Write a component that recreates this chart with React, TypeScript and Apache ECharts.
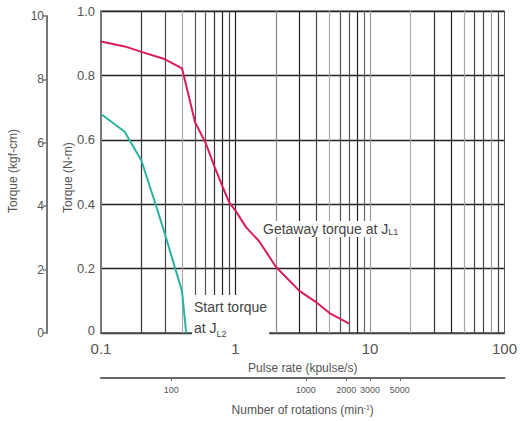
import React, { useEffect, useRef } from "react";
import * as echarts from "echarts";

// ---- data ----
const getawayRate = [0.1, 0.15, 0.2, 0.3, 0.4, 0.5, 0.6, 0.7, 0.8, 0.9, 1.0, 1.2, 1.5, 2, 3, 4, 5, 7];
const getawayTorque = [0.905, 0.89, 0.873, 0.85, 0.822, 0.655, 0.59, 0.515, 0.455, 0.405, 0.38, 0.328, 0.285, 0.205, 0.13, 0.095, 0.062, 0.029];
const startRate = [0.1, 0.15, 0.2, 0.25, 0.3, 0.4, 0.43];
const startTorque = [0.68, 0.625, 0.535, 0.41, 0.305, 0.13, 0];
const pulseTickLabels = [0.1, 1, 10, 100];
const rotationTicks = [100, 1000, 2000, 3000, 5000];
const kgfTicks = [0, 2, 4, 6, 8, 10];
const rpmPerKpulse = 300;
const gridValues = [0.2, 0.3, 0.4, 0.5, 0.6, 0.7, 0.8, 0.9, 1, 2, 3, 4, 5, 6, 7, 8, 9, 10, 20, 30, 40, 50, 60, 70, 80, 90];

// styles
const gridTones = ["#333", "#444", "#aaa", "#555", "#555", "#333", "#222", "#444", "#222", "#888", "#222", "#444", "#aaa", "#555", "#555", "#222", "#666", "#999", "#aaa", "#333", "#222", "#aaa", "#444", "#444", "#999", "#444"];
const FONT = "Liberation Sans, Arial, sans-serif";
const TXT = "#555";

export default function App() {
  const ref = useRef<HTMLDivElement>(null);
  useEffect(() => {
    if (!ref.current) return;
    const chart = echarts.init(ref.current, undefined, { renderer: "svg" });
    const fmtNum = (v: number) => String(+Number(v).toPrecision(3));
    chart.setOption({
      animation: false,
      textStyle: { fontFamily: FONT },
      grid: [
        { left: 101, top: 11, right: 14.5, bottom: 84, show: true, borderColor: "#555", borderWidth: 1, backgroundColor: "transparent" },
        { left: 47, top: 16, width: 1, height: 317 },
      ],
      xAxis: [
        {
          type: "log", logBase: 10, min: pulseTickLabels[0], max: pulseTickLabels[pulseTickLabels.length - 1], gridIndex: 0,
          axisLine: { show: true, lineStyle: { color: "#555", width: 1.5 } },
          axisTick: { show: false },
          splitLine: { show: false },
          axisLabel: { color: TXT, fontSize: 15, margin: 8, formatter: fmtNum },
          name: "Pulse rate (kpulse/s)", nameLocation: "middle", nameGap: 29,
          nameTextStyle: { color: TXT, fontSize: 12 },
        },
        {
          type: "log", logBase: 10, gridIndex: 0, position: "bottom", offset: 45,
          min: pulseTickLabels[0] * rpmPerKpulse, max: pulseTickLabels[pulseTickLabels.length - 1] * rpmPerKpulse,
          axisLine: { show: true, lineStyle: { color: "#666", width: 2 } },
          axisTick: { show: true, customValues: rotationTicks, length: 3, lineStyle: { color: "#666" } },
          axisLabel: { show: true, customValues: rotationTicks, color: TXT, fontSize: 9, margin: 7, formatter: (v: number) => String(Math.round(v)) },
          splitLine: { show: false },
          name: "{a|Number of rotations (min}{s|-1}{a|)}", nameLocation: "middle", nameGap: 26,
          nameTextStyle: { rich: { a: { color: TXT, fontSize: 12 }, s: { color: TXT, fontSize: 7, verticalAlign: "top" } } },
        },
        { type: "value", gridIndex: 1, show: false },
      ],
      yAxis: [
        {
          type: "value", min: 0, max: 1, interval: 0.2, gridIndex: 0,
          axisLine: { show: true, lineStyle: { color: "#777", width: 2 } },
          axisTick: { show: false },
          axisLabel: {
            color: TXT, fontSize: 13, margin: 6,
            formatter: (v: number) => (v === 0 ? "{z|0}" : v.toFixed(1)),
            rich: { z: { color: TXT, fontSize: 13, padding: [0, 0, 6, 0] } },
          },
          splitLine: { show: true, lineStyle: { color: "#222", width: 1.3 } },
        },
        {
          type: "value", min: kgfTicks[0], max: kgfTicks[kgfTicks.length - 1], interval: 2, gridIndex: 1,
          axisLine: { show: true, lineStyle: { color: "#777", width: 2 } },
          axisTick: { show: true, length: 4, lineStyle: { color: "#777", width: 1.5 } },
          axisLabel: { color: TXT, fontSize: 12, margin: 3 },
          splitLine: { show: false },
        },
      ],
      series: [
        {
          type: "line", xAxisIndex: 0, yAxisIndex: 0, data: [], z: 1, silent: true,
          markLine: {
            silent: true, symbol: "none", label: { show: false },
            lineStyle: { type: "solid", width: 1.2 },
            data: gridValues.map((v, i) => ({ xAxis: v, lineStyle: { color: gridTones[i], type: "solid", width: 1.2 } })),
          },
        },
        {
          name: "Getaway torque", type: "line", xAxisIndex: 0, yAxisIndex: 0, z: 5,
          data: getawayRate.map((r, i) => [r, getawayTorque[i]]),
          showSymbol: false, lineStyle: { color: "#d81b5e", width: 2 },
        },
        {
          name: "Start torque", type: "line", xAxisIndex: 0, yAxisIndex: 0, z: 5,
          data: startRate.map((r, i) => [r, startTorque[i]]),
          showSymbol: false, lineStyle: { color: "#2ab3a3", width: 2 },
        },
      ],
      graphic: [
        {
          type: "text", x: 13, y: 213, rotation: Math.PI / 2, z: 10,
          style: { text: "Torque (kgf-cm)", fill: TXT, fontSize: 12, fontFamily: FONT, align: "left", verticalAlign: "middle" },
        },
        {
          type: "text", x: 68, y: 213, rotation: Math.PI / 2, z: 10,
          style: { text: "Torque (N-m)", fill: TXT, fontSize: 12, fontFamily: FONT, align: "left", verticalAlign: "middle" },
        },
        {
          type: "text", x: 261, y: 229, z: 10,
          style: {
            text: "{a|Getaway torque at J}{s|L1}", fontFamily: FONT, align: "left", verticalAlign: "middle",
            backgroundColor: "#fff", padding: [1, 2, 1, 2],
            rich: { a: { fontSize: 14, fill: "#444", fontFamily: FONT }, s: { fontSize: 9, fill: "#444", fontFamily: FONT, verticalAlign: "bottom", padding: [4, 0, 0, 0] } },
          },
        },
        {
          type: "text", x: 192, y: 295, z: 10,
          style: {
            text: "{a|Start torque}\n{a|at J}{s|L2}", fontFamily: FONT, align: "left", verticalAlign: "top",
            backgroundColor: "#fff", padding: [1, 2, 4, 2], lineHeight: 21,
            rich: { a: { fontSize: 14, fill: "#444", fontFamily: FONT, lineHeight: 21 }, s: { fontSize: 9, fill: "#444", fontFamily: FONT, verticalAlign: "bottom", lineHeight: 21, padding: [4, 0, 0, 0] } },
          },
        },
      ],
    });
    return () => chart.dispose();
  }, []);
  return <div ref={ref} style={{ width: 520, height: 421, position: "absolute", left: 0, top: 0 }} />;
}
